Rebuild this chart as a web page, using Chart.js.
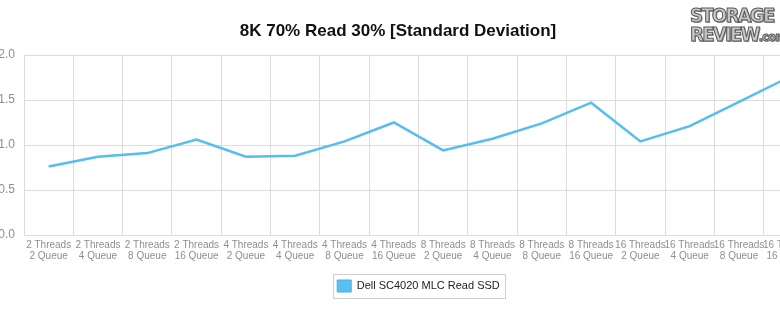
<!DOCTYPE html>
<html>
<head>
<meta charset="utf-8">
<script src="https://cdn.jsdelivr.net/npm/chart.js@4/dist/chart.umd.min.js"></script>
<style>
  html, body { margin: 0; padding: 0; background: #fff; overflow: hidden; width: 780px; height: 326px; }
  #wrap { position: absolute; left: -10px; top: 0; width: 859px; height: 326px; }
  #title { position: absolute; left: 0; width: 796px; top: 22px; text-align: center;
           font: bold 17px "Liberation Sans", Arial, Helvetica, sans-serif; line-height: 17px; color: #111; }
  #logo { position: absolute; left: 690px; top: 6px; white-space: nowrap;
          font-family: "Liberation Sans Narrow", "DejaVu Sans Condensed", "Liberation Sans", sans-serif;
          font-weight: bold; color: #c8c8c8; -webkit-text-stroke: 1px #5a5a5a; letter-spacing: -1.7px;
          text-shadow: 1px 1px 0 #999; }
  #logo .l1 { font-size: 20px; line-height: 19px; }
  #logo .l2 { font-size: 20px; line-height: 18px; }
  #logo .l2 small { font-size: 12px; letter-spacing: -0.5px; }
</style>
</head>
<body>
<div id="wrap"><canvas id="c" width="859" height="326"></canvas></div>
<div id="title">8K 70% Read 30% [Standard Deviation]</div>
<div id="logo"><div class="l1">STORAGE</div><div class="l2">REVIEW<small>.com</small></div></div>
<script>
const threads = ["2 Threads","2 Threads","2 Threads","2 Threads","4 Threads","4 Threads","4 Threads","4 Threads",
                 "8 Threads","8 Threads","8 Threads","8 Threads","16 Threads","16 Threads","16 Threads","16 Threads"];
const queues = ["2 Queue","4 Queue","8 Queue","16 Queue","2 Queue","4 Queue","8 Queue","16 Queue",
                "2 Queue","4 Queue","8 Queue","16 Queue","2 Queue","4 Queue","8 Queue","16 Queue"];
const seriesName = "Dell SC4020 MLC Read SSD";
const stdDev = [0.76, 0.87, 0.91, 1.06, 0.87, 0.88, 1.04, 1.25, 0.94, 1.07, 1.24, 1.47, 1.04, 1.21, 1.48, 1.75];
const yTicks = [0, 0.5, 1.0, 1.5, 2.0];

const labels = threads.map((t, i) => [t, queues[i]]);
const lineColor = "#55bdf0";
const gridColor = "#dcdcdc";
const tickColor = "#8e8e8e";

const legendBorder = {
  id: "legendBorder",
  afterDraw(chart) {
    const lg = chart.legend;
    if (!lg || !lg.legendHitBoxes || !lg.legendHitBoxes.length) return;
    const hb = lg.legendHitBoxes[0];
    const ctx = chart.ctx;
    ctx.save();
    ctx.strokeStyle = "#cfcfcf";
    ctx.lineWidth = 1;
    ctx.strokeRect(Math.round(hb.left - 4) + 0.5, Math.round(hb.top - 6) + 0.5,
                   Math.round(hb.width + 9), Math.round(hb.height + 12));
    ctx.restore();
  }
};

new Chart(document.getElementById("c"), {
  type: "line",
  data: {
    labels: labels,
    datasets: [{
      label: seriesName,
      data: stdDev,
      borderColor: lineColor,
      backgroundColor: "#58c0f2",
      borderWidth: 2.5,
      pointRadius: 0,
      tension: 0,
      fill: false
    }]
  },
  options: {
    responsive: false,
    devicePixelRatio: 1,
    animation: false,
    layout: { padding: { top: 55, bottom: 24, left: 0, right: 36 } },
    plugins: {
      title: { display: false },
      tooltip: { enabled: false },
      legend: {
        position: "bottom",
        fullSize: false,
        labels: {
          boxWidth: 14, boxHeight: 12, padding: 10,
          color: "#222",
          font: { family: "'Liberation Sans', Arial, sans-serif", size: 11 },
          generateLabels(chart) {
            const items = Chart.defaults.plugins.legend.labels.generateLabels(chart);
            items.forEach(it => { it.lineWidth = 1; it.strokeStyle = "#4aaee2"; it.fillStyle = "#58c0f2"; });
            return items;
          }
        }
      }
    },
    scales: {
      x: {
        offset: true,
        grid: { color: gridColor, offset: true, drawTicks: false },
        border: { color: gridColor },
        ticks: {
          color: tickColor, padding: 4, maxRotation: 0, autoSkip: false,
          font: { family: "'Liberation Sans', Arial, sans-serif", size: 10, lineHeight: 1.15 }
        },
        afterFit(scale) { scale.height = 35; }
      },
      y: {
        min: 0, max: 2,
        afterBuildTicks(scale) { scale.ticks = yTicks.map(v => ({ value: v })); },
        grid: { color: gridColor, drawTicks: false },
        border: { color: gridColor },
        ticks: {
          color: tickColor, padding: 9,
          font: { family: "'Liberation Sans', Arial, sans-serif", size: 12 },
          callback: v => Number(v).toFixed(1)
        },
        afterFit(scale) { scale.width = 34; }
      }
    }
  },
  plugins: [legendBorder]
});
</script>
</body>
</html>
